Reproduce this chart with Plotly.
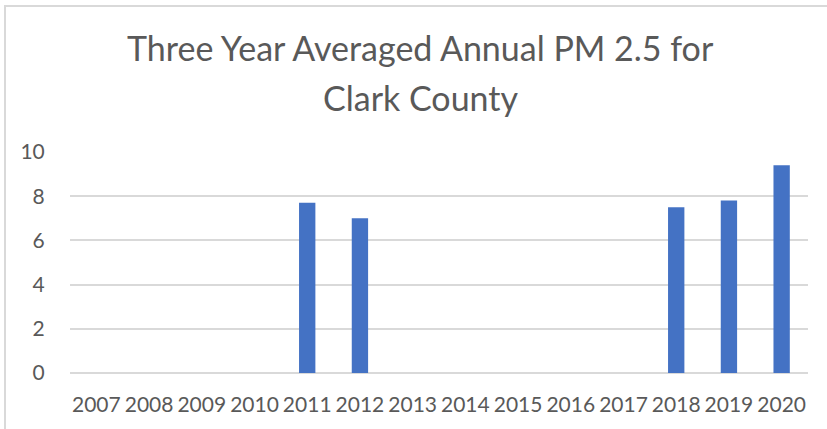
import plotly.graph_objects as go

# data
years = ["2007", "2008", "2009", "2010", "2011", "2012", "2013",
         "2014", "2015", "2016", "2017", "2018", "2019", "2020"]
pm25 = [None, None, None, None, 7.7, 7.0, None,
        None, None, None, None, 7.5, 7.8, 9.4]

title_lines = ["Three Year Averaged Annual PM 2.5 for", "Clark County"]

# layout numbers (pixels)
W, H = 827, 429
ML, MR, MT, MB = 70, 19, 152, 56
plot_w = W - ML - MR
plot_h = H - MT - MB

grey_txt = "#595959"
grey_line = "#D9D9D9"


def px_to_paper_x(px):
    return (px - ML) / plot_w


def px_to_paper_y(py):
    return (H - MB - py) / plot_h


fig = go.Figure()
fig.add_trace(go.Bar(
    x=years,
    y=pm25,
    marker=dict(color="#4472C4", line=dict(width=0)),
    hoverinfo="x+y",
))

# title as two annotations
for line, ypx in zip(title_lines, [48, 97]):
    fig.add_annotation(
        text=line, xref="paper", yref="paper",
        x=px_to_paper_x(W / 2 + 7), y=px_to_paper_y(ypx),
        xanchor="center", yanchor="middle", showarrow=False,
        font=dict(family="Lato", size=34, color=grey_txt),
    )

# chart border (light grey frame)
fig.add_shape(type="line", xref="paper", yref="paper",
              x0=px_to_paper_x(5), x1=px_to_paper_x(W + 5),
              y0=px_to_paper_y(6), y1=px_to_paper_y(6),
              line=dict(color=grey_line, width=2))
fig.add_shape(type="line", xref="paper", yref="paper",
              x0=px_to_paper_x(5), x1=px_to_paper_x(5),
              y0=px_to_paper_y(5), y1=px_to_paper_y(H + 5),
              line=dict(color=grey_line, width=2))

fig.update_layout(
    width=W, height=H,
    margin=dict(l=ML, r=MR, t=MT, b=MB, pad=0),
    paper_bgcolor="white", plot_bgcolor="white",
    bargap=0.69,
    showlegend=False,
    font=dict(family="Lato", color=grey_txt, size=21),
)
fig.update_xaxes(
    type="category", showgrid=False, showline=False, automargin=False,
    tickangle=0,
    ticks="outside", ticklen=13, tickcolor="rgba(0,0,0,0)",
    tickfont=dict(family="Lato", size=21, color=grey_txt),
)
fig.update_yaxes(
    range=[0, 10], dtick=2, showgrid=True, gridcolor=grey_line, gridwidth=1.5,
    zeroline=True, zerolinecolor=grey_line, zerolinewidth=1.5, showline=False,
    automargin=False,
    ticks="outside", ticklen=20, tickcolor="rgba(0,0,0,0)",
    tickfont=dict(family="Lato", size=21, color=grey_txt),
)

# drop the default page margin so the figure sits at the window corner
fig.write_html("out.html", config={"displayModeBar": False},
               post_script="document.body.style.margin='0';")
